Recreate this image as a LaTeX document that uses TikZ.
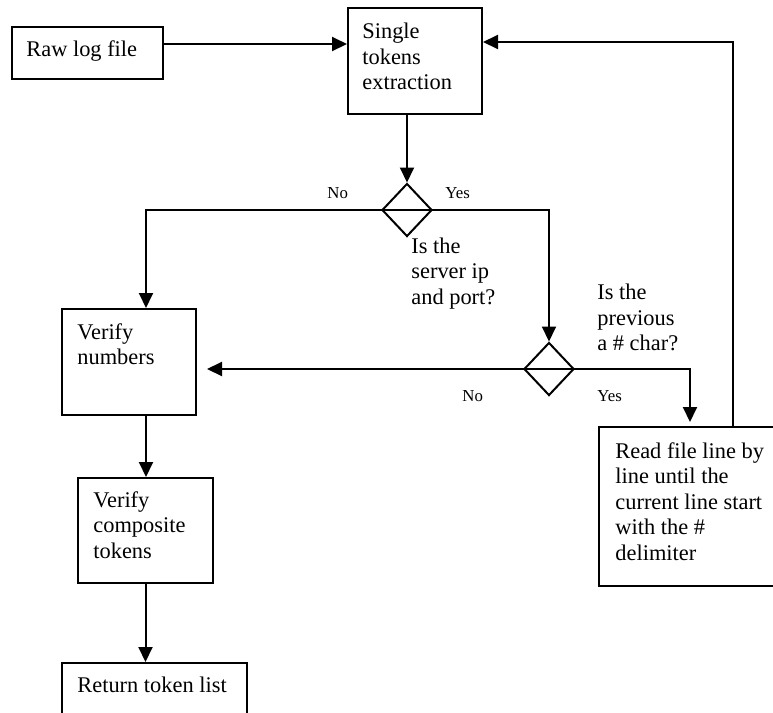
\documentclass[tikz,border=0pt]{standalone}
\usepackage{fontspec}
\setmainfont{Liberation Serif}
\usetikzlibrary{arrows.meta,shapes.geometric,calc}

\tikzset{
  box/.style={draw, line width=1pt, rectangle, inner sep=0pt},
  decision/.style={draw, line width=1pt, diamond, inner sep=0pt,
    minimum width=25pt, minimum height=26.5pt},
  % multi-line texts are placed by the baseline of their last line
  txt/.style={anchor=base west, inner sep=0pt, align=left,
    font=\fontsize{11.2}{12.75}\selectfont},
  lbl/.style={anchor=base west, inner sep=0pt,
    font=\fontsize{8.4}{10}\selectfont},
  flow/.style={line width=1pt, -{Triangle[length=7.5pt,width=7pt]}},
  plain/.style={line width=1pt}
}

\begin{document}
\begin{tikzpicture}[x=0.5pt, y=-0.5pt]
\useasboundingbox (0,0) rectangle (773,713);

% process boxes
\node[box, minimum width=75.5pt, minimum height=26pt] (raw) at (87.5,53) {};
\node[box, minimum width=67pt, minimum height=53pt] (single) at (415,61) {};
\node[box, minimum width=67pt, minimum height=53pt] (vnum) at (129,362) {};
\node[box, minimum width=67.5pt, minimum height=52.5pt] (comp) at (145.5,530.5) {};
\node[box, minimum width=92.5pt, minimum height=31pt] (ret) at (154.5,694) {};
\node[box, minimum width=88.5pt, minimum height=79.5pt] (read) at (687.5,506.5) {};

% decisions
\node[decision] (d1) at (407,210) {};
\node[decision] (d2) at (549,369) {};
\draw[plain] (d1.west) -- (d1.east);
\draw[plain] (d2.west) -- (d2.east);

% box texts
\node[txt] (rawT) at (26,56) {Raw log file};
\node[txt] (singleT) at (362,89.5) {Single\\tokens\\extraction};
\node[txt] (vnumT) at (77,364.5) {Verify\\numbers};
\node[txt] (compT) at (93,558) {Verify\\composite\\tokens};
\node[txt] (retT) at (77,692) {Return token list};
\node[txt] (readT) at (615,560) {Read file line by\\line until the\\current line start\\with the \#\\delimiter};

% questions
\node[txt] (q1) at (411,304) {Is the\\server ip\\and port?};
\node[txt] (q2) at (597,350.5) {Is the\\previous\\a \# char?};

% branch labels
\node[lbl] (no1) at (327,198) {No};
\node[lbl] (yes1) at (445,198) {Yes};
\node[lbl] (no2) at (462,401) {No};
\node[lbl] (yes2) at (597,401) {Yes};

% turning points of the connectors
\coordinate (noTurn) at (146,210);
\coordinate (yesDrop) at (690,422);
\coordinate (loopUp) at (733,42);

% connectors
\draw[flow] (raw.east |- 0,44) -- (single.west |- 0,44);
\draw[flow] (d1.north |- single.south) -- (d1.north);
\draw[flow] (d1.west) -- (noTurn) -- (noTurn |- vnum.north);
\draw[flow] (d1.east) -| (d2.north);
\draw[flow] (d2.west) -- ($(vnum.east |- d2.west)+(10,0)$);
\draw[flow] (d2.east) -| (yesDrop);
\draw[flow] (loopUp |- read.north) -- (loopUp) -- (single.east |- loopUp);
\draw[flow] (noTurn |- vnum.south) -- (noTurn |- comp.north);
\draw[flow] (comp.south) -- (comp.south |- ret.north);
\end{tikzpicture}
\end{document}
